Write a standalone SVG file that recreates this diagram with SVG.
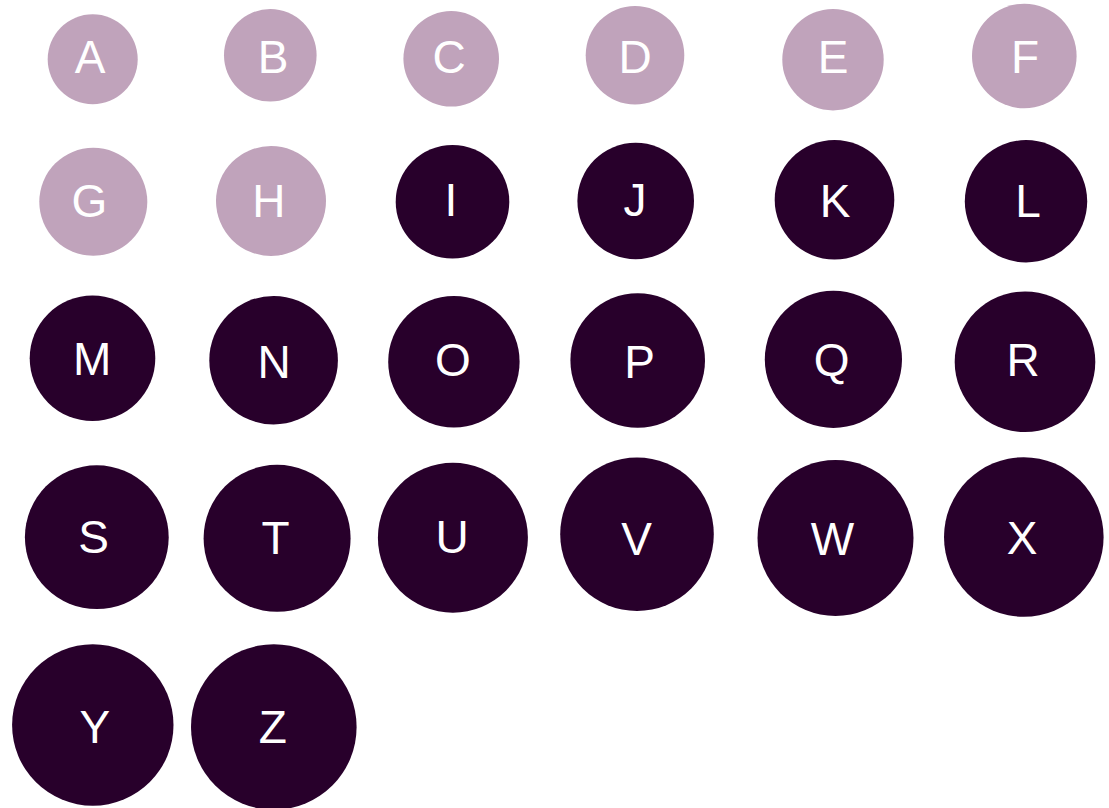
<svg xmlns="http://www.w3.org/2000/svg" width="1109" height="808" viewBox="0 0 1109 808">
<style>
.l{fill:#c0a3bb}
.d{fill:#28002b}
text{fill:#ffffff;font-family:"Liberation Sans",Arial,sans-serif;font-size:46px;text-anchor:middle}
</style>
<rect width="1109" height="808" fill="#ffffff"/>
<g id="connectors"/>
<g id="A"><circle class="l" cx="92.7" cy="59.3" r="45"/><text x="90" y="73.3">A</text></g>
<g id="B"><circle class="l" cx="270.3" cy="55.3" r="46.3"/><text x="273" y="72.7">B</text></g>
<g id="C"><circle class="l" cx="451.2" cy="58.8" r="47.8"/><text x="449" y="73.3">C</text></g>
<g id="D"><circle class="l" cx="635" cy="55.2" r="49.3"/><text x="635" y="72.7">D</text></g>
<g id="E"><circle class="l" cx="833" cy="59.7" r="50.7"/><text x="833" y="73.3">E</text></g>
<g id="F"><circle class="l" cx="1024.3" cy="56" r="52.3"/><text x="1025" y="72.7">F</text></g>
<g id="G"><circle class="l" cx="93.3" cy="201.8" r="54"/><text x="89.5" y="217.3">G</text></g>
<g id="H"><circle class="l" cx="271" cy="201" r="55"/><text x="268.8" y="217.3">H</text></g>
<g id="I"><circle class="d" cx="452.5" cy="201.7" r="56.8"/><text x="451" y="216">I</text></g>
<g id="J"><circle class="d" cx="635.7" cy="201" r="58.3"/><text x="635" y="216">J</text></g>
<g id="K"><circle class="d" cx="834.5" cy="199.7" r="59.8"/><text x="835" y="217.3">K</text></g>
<g id="L"><circle class="d" cx="1026" cy="201.3" r="61.2"/><text x="1028" y="217.3">L</text></g>
<g id="M"><circle class="d" cx="92.5" cy="358.3" r="62.8"/><text x="92.1" y="375">M</text></g>
<g id="N"><circle class="d" cx="273.6" cy="360.2" r="64.3"/><text x="274.1" y="377.7">N</text></g>
<g id="O"><circle class="d" cx="453.9" cy="361.7" r="65.7"/><text x="452.9" y="375.5">O</text></g>
<g id="P"><circle class="d" cx="637.7" cy="360.5" r="67.3"/><text x="639.5" y="377.7">P</text></g>
<g id="Q"><circle class="d" cx="833.4" cy="359.3" r="68.6"/><text x="831.6" y="375.5">Q</text></g>
<g id="R"><circle class="d" cx="1025" cy="361.7" r="70.3"/><text x="1023" y="375.7">R</text></g>
<g id="S"><circle class="d" cx="96.8" cy="537.2" r="71.9"/><text x="93.7" y="553.3">S</text></g>
<g id="T"><circle class="d" cx="277.1" cy="538.3" r="73.5"/><text x="275.5" y="554">T</text></g>
<g id="U"><circle class="d" cx="452.9" cy="537.7" r="75"/><text x="452" y="553.3">U</text></g>
<g id="V"><circle class="d" cx="637" cy="534.2" r="76.8"/><text x="636.5" y="555">V</text></g>
<g id="W"><circle class="d" cx="835.5" cy="538" r="78"/><text x="832.5" y="555">W</text></g>
<g id="X"><circle class="d" cx="1023.8" cy="537" r="79.8"/><text x="1022" y="554">X</text></g>
<g id="Y"><circle class="d" cx="92.8" cy="725" r="80.7"/><text x="94.8" y="742.7">Y</text></g>
<g id="Z"><circle class="d" cx="273.8" cy="727" r="82.8"/><text x="272.7" y="742.7">Z</text></g>
</svg>
